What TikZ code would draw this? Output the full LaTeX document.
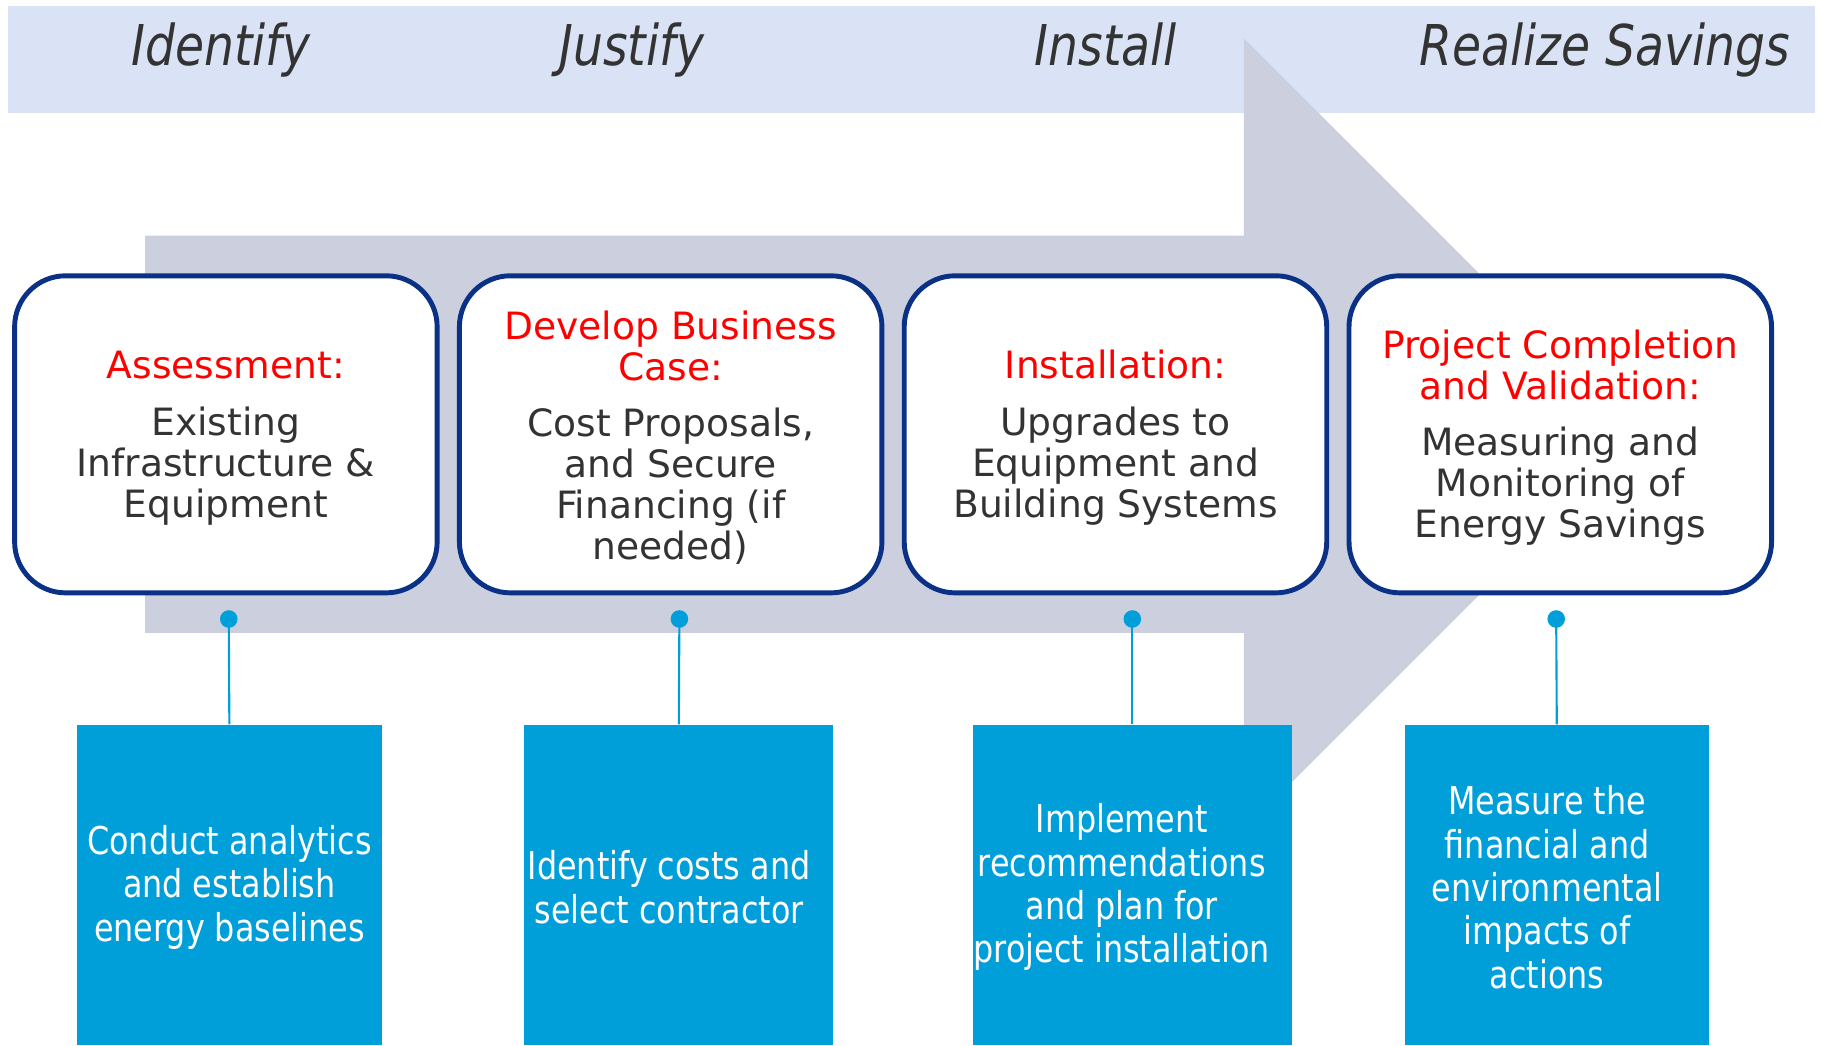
\documentclass[tikz,border=0pt]{standalone}
\usepackage{fontspec}
\setmainfont{DejaVu Sans}
\newfontfamily\labelfont[FakeStretch=0.84]{DejaVu Sans}
\newfontfamily\narrowfont[FakeStretch=0.83]{DejaVu Sans}

\definecolor{bandblue}{HTML}{DAE3F5}
\definecolor{arrowgray}{HTML}{CBCFDE}
\definecolor{navy}{HTML}{0A3186}
\definecolor{stepblue}{HTML}{009FDA}
\definecolor{txtgray}{HTML}{333333}
\definecolor{stepred}{HTML}{FF0000}

\tikzset{
  phaselabel/.style={text=txtgray, font=\labelfont\itshape\fontsize{16}{18}\selectfont,
    inner sep=0pt, anchor=base},
  stagebox/.style={draw=navy, line width=1.4pt, fill=white, rounded corners=14.5pt,
    minimum width=120.2pt, minimum height=90.2pt, inner sep=0pt, align=center,
    text=txtgray, font=\fontsize{10.7}{11.7}\selectfont},
  actionbox/.style={fill=stepblue, minimum height=90.9pt, inner sep=0pt, align=center,
    text=white, font=\narrowfont\fontsize{10.9}{12.35}\selectfont},
  pin/.style={circle, fill=stepblue, inner sep=0pt, minimum size=5pt},
  pinline/.style={draw=stepblue, line width=0.6pt},
}

\newcommand{\red}[1]{\textcolor{stepred}{#1}}
% struts on the first line nudge a text block slightly downward
\newcommand{\stagestrut}{\rule{0pt}{10.1pt}}
\newcommand{\actionstrut}{\rule{0pt}{9.6pt}}

\begin{document}
\begin{tikzpicture}[x=0.011614cm, y=-0.011614cm]
  \useasboundingbox (0,0) rectangle (1568,900);

  % phase band across the top
  \fill[bandblue] (7,5) rectangle (1563,97);

  % large process arrow behind the stages
  \fill[arrowgray] (125,203) -- (1071,203) -- (1071,33) -- (1412,374)
    -- (1071,715) -- (1071,545) -- (125,545) -- cycle;

  % phase names
  \node[phaselabel] (p1) at (190,56) {Identify};
  \node[phaselabel] (p2) at (544,56) {Justify};
  \node[phaselabel] (p3) at (952,56) {Install};
  \node[phaselabel] (p4) at (1382,56) {Realize Savings};

  % stage boxes
  \node[stagebox] (s1) at (194.5,374) {\stagestrut\red{Assessment:}\\[4.3pt]Existing\\Infrastructure \&\\Equipment};
  \node[stagebox] (s2) at (577.5,374) {\stagestrut\red{Develop Business}\\\red{Case:}\\[4.3pt]Cost Proposals,\\and Secure\\Financing (if\\needed)};
  \node[stagebox] (s3) at (960.5,374) {\stagestrut\red{Installation:}\\[4.3pt]Upgrades to\\Equipment and\\Building Systems};
  \node[stagebox] (s4) at (1343.5,374) {\stagestrut\red{Project Completion}\\\red{and Validation:}\\[4.3pt]Measuring and\\Monitoring of\\Energy Savings};

  % action boxes
  \node[actionbox, minimum width=86.6pt] (a1) at (197.5,762) {\actionstrut Conduct analytics\\and establish\\energy baselines};
  \node[actionbox, minimum width=87.9pt] (a2) at (584.5,762) {\hspace*{-5.5pt}\actionstrut Identify costs and\\\hspace*{-5.5pt}select contractor};
  \node[actionbox, minimum width=90.9pt] (a3) at (975,762) {\hspace*{-6pt}\actionstrut Implement\\\hspace*{-6pt}recommendations\\\hspace*{-6pt}and plan for\\\hspace*{-6pt}project installation};
  \node[actionbox, minimum width=86.6pt] (a4) at (1340.5,762) {\hspace*{-5.5pt}\actionstrut Measure the\\\hspace*{-5.5pt}financial and\\\hspace*{-5.5pt}environmental\\\hspace*{-5.5pt}impacts of\\\hspace*{-5.5pt}actions};

  % pins linking the stages to their actions
  \node[pin] (d1) at (197,533) {};
  \node[pin] (d2) at (585,533) {};
  \node[pin] (d3) at (975,533) {};
  \node[pin] (d4) at (1340,533) {};
  \draw[pinline] (d1.center) -- (a1.north);
  \draw[pinline] (d2.center) -- (a2.north);
  \draw[pinline] (d3.center) -- (a3.north);
  \draw[pinline] (d4.center) -- (a4.north);
\end{tikzpicture}
\end{document}
